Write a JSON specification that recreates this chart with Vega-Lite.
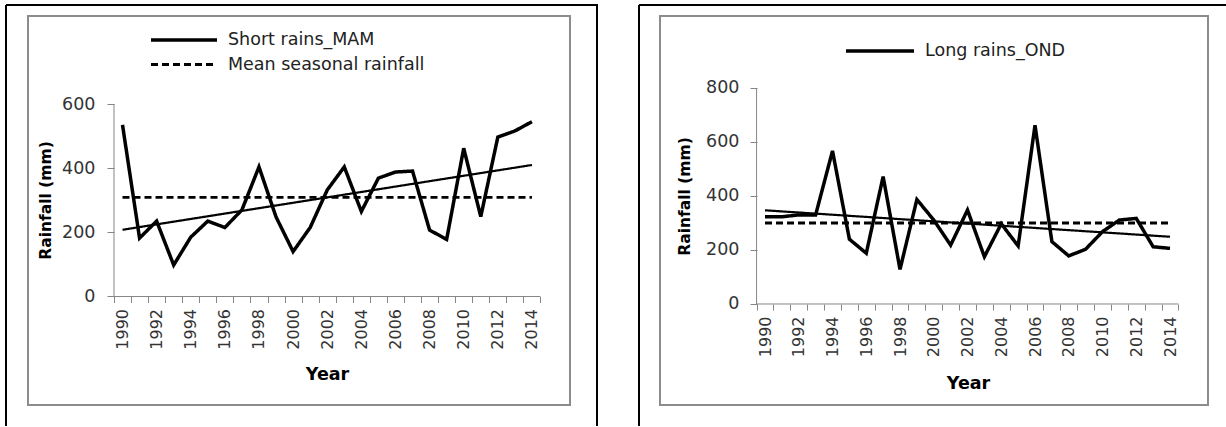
{
  "$schema": "https://vega.github.io/schema/vega-lite/v6.json",
  "background": "white",
  "padding": {"left": 5, "top": 4, "right": 0, "bottom": 0},
  "spacing": 40,
  "config": {"font": "DejaVu Sans", "axis": {"grid": false}},
  "resolve": {"scale": {"strokeDash": "independent", "strokeWidth": "independent"}, "legend": {"strokeDash": "independent", "strokeWidth": "independent"}},
  "datasets": {
    "mam": [
      {"year": 1990, "series": "Short rains_MAM", "value": 535},
      {"year": 1991, "series": "Short rains_MAM", "value": 182},
      {"year": 1992, "series": "Short rains_MAM", "value": 235},
      {"year": 1993, "series": "Short rains_MAM", "value": 98},
      {"year": 1994, "series": "Short rains_MAM", "value": 185},
      {"year": 1995, "series": "Short rains_MAM", "value": 235},
      {"year": 1996, "series": "Short rains_MAM", "value": 215},
      {"year": 1997, "series": "Short rains_MAM", "value": 270},
      {"year": 1998, "series": "Short rains_MAM", "value": 404},
      {"year": 1999, "series": "Short rains_MAM", "value": 248},
      {"year": 2000, "series": "Short rains_MAM", "value": 140},
      {"year": 2001, "series": "Short rains_MAM", "value": 215},
      {"year": 2002, "series": "Short rains_MAM", "value": 332},
      {"year": 2003, "series": "Short rains_MAM", "value": 404},
      {"year": 2004, "series": "Short rains_MAM", "value": 265},
      {"year": 2005, "series": "Short rains_MAM", "value": 369},
      {"year": 2006, "series": "Short rains_MAM", "value": 388},
      {"year": 2007, "series": "Short rains_MAM", "value": 391},
      {"year": 2008, "series": "Short rains_MAM", "value": 207},
      {"year": 2009, "series": "Short rains_MAM", "value": 178},
      {"year": 2010, "series": "Short rains_MAM", "value": 462},
      {"year": 2011, "series": "Short rains_MAM", "value": 249},
      {"year": 2012, "series": "Short rains_MAM", "value": 497},
      {"year": 2013, "series": "Short rains_MAM", "value": 516},
      {"year": 2014, "series": "Short rains_MAM", "value": 545},
      {"year": 1990, "series": "Mean seasonal rainfall", "value": 309},
      {"year": 2014, "series": "Mean seasonal rainfall", "value": 309},
      {"year": 1990, "series": "Trend", "value": 208},
      {"year": 2014, "series": "Trend", "value": 410}
    ],
    "ond": [
      {"year": 1990, "series": "Long rains_OND", "value": 323},
      {"year": 1991, "series": "Long rains_OND", "value": 323},
      {"year": 1992, "series": "Long rains_OND", "value": 330},
      {"year": 1993, "series": "Long rains_OND", "value": 330},
      {"year": 1994, "series": "Long rains_OND", "value": 567},
      {"year": 1995, "series": "Long rains_OND", "value": 240},
      {"year": 1996, "series": "Long rains_OND", "value": 188},
      {"year": 1997, "series": "Long rains_OND", "value": 472},
      {"year": 1998, "series": "Long rains_OND", "value": 128},
      {"year": 1999, "series": "Long rains_OND", "value": 387},
      {"year": 2000, "series": "Long rains_OND", "value": 311},
      {"year": 2001, "series": "Long rains_OND", "value": 218},
      {"year": 2002, "series": "Long rains_OND", "value": 348},
      {"year": 2003, "series": "Long rains_OND", "value": 175},
      {"year": 2004, "series": "Long rains_OND", "value": 297},
      {"year": 2005, "series": "Long rains_OND", "value": 215},
      {"year": 2006, "series": "Long rains_OND", "value": 662},
      {"year": 2007, "series": "Long rains_OND", "value": 231},
      {"year": 2008, "series": "Long rains_OND", "value": 178},
      {"year": 2009, "series": "Long rains_OND", "value": 203},
      {"year": 2010, "series": "Long rains_OND", "value": 268},
      {"year": 2011, "series": "Long rains_OND", "value": 311},
      {"year": 2012, "series": "Long rains_OND", "value": 317},
      {"year": 2013, "series": "Long rains_OND", "value": 212},
      {"year": 2014, "series": "Long rains_OND", "value": 206},
      {"year": 1990, "series": "Mean seasonal rainfall", "value": 300},
      {"year": 2014, "series": "Mean seasonal rainfall", "value": 300},
      {"year": 1990, "series": "Trend", "value": 347},
      {"year": 2014, "series": "Trend", "value": 249}
    ]
  },
  "hconcat": [
    {
      "width": 591,
      "height": 421,
      "view": {"stroke": "black", "strokeWidth": 2, "strokeDash": [1012, 591, 421, 0]},
      "resolve": {"axis": {"x": "independent", "y": "independent"}},
      "layer": [
        {
          "data": {"values": [{"part": "chart area"}]},
          "mark": {"type": "rect", "filled": false, "color": "#8c8c8c", "strokeWidth": 2},
          "encoding": {
            "x": {"datum": 1984.461, "type": "quantitative", "scale": {"domain": [1983.171, 2017.813], "nice": false, "zero": false}, "axis": null},
            "x2": {"datum": 2016.231},
            "y": {"datum": 874.4, "type": "quantitative", "scale": {"domain": [-403.7, 908.7], "nice": false, "zero": false}, "axis": null},
            "y2": {"datum": -338.2}
          }
        },
        {
          "data": {"values": [{"part": "value axis line"}]},
          "mark": {"type": "rule", "color": "#868686", "strokeWidth": 1},
          "encoding": {
            "x": {"datum": 1989.5, "type": "quantitative", "axis": null},
            "y": {"datum": 0, "type": "quantitative", "axis": null},
            "y2": {"datum": 600}
          }
        },
        {
          "data": {"values": [{"part": "category axis line"}]},
          "mark": {"type": "rule", "color": "#868686", "strokeWidth": 1},
          "encoding": {
            "x": {"datum": 1989.5, "type": "quantitative", "axis": {"orient": "bottom", "offset": -129.5, "values": [1989.5, 1990.5, 1991.5, 1992.5, 1993.5, 1994.5, 1995.5, 1996.5, 1997.5, 1998.5, 1999.5, 2000.5, 2001.5, 2002.5, 2003.5, 2004.5, 2005.5, 2006.5, 2007.5, 2008.5, 2009.5, 2010.5, 2011.5, 2012.5, 2013.5, 2014.5], "labels": false, "ticks": true, "tickSize": 6, "tickColor": "#868686", "domain": false, "grid": false, "title": null}},
            "x2": {"datum": 2014.5},
            "y": {"datum": 0, "type": "quantitative", "axis": null}
          }
        },
        {
          "data": {"name": "mam"},
          "mark": {"type": "line", "color": "black"},
          "encoding": {
            "x": {"field": "year", "type": "quantitative", "axis": {"orient": "bottom", "offset": -129.5, "values": [1990, 1992, 1994, 1996, 1998, 2000, 2002, 2004, 2006, 2008, 2010, 2012, 2014], "format": "d", "labelAngle": -90, "ticks": false, "domain": false, "grid": false, "labelPadding": 12, "labelFontSize": 16, "labelColor": "#333", "labelFlush": false, "labelOverlap": false, "labelBound": false, "title": "Year", "titleFontSize": 17.5, "titleFontWeight": "bold", "titleColor": "black", "titleX": 321, "titleY": 78, "titleAngle": 0, "titleAlign": "center", "titleBaseline": "middle"}},
            "y": {"field": "value", "type": "quantitative", "axis": {"orient": "left", "offset": -108, "values": [0, 200, 400, 600], "format": "d", "domain": false, "grid": false, "ticks": true, "tickSize": 7, "tickColor": "#868686", "labelPadding": 12, "labelFontSize": 17.5, "labelColor": "#333", "labelFlush": false, "labelOverlap": false, "title": "Rainfall (mm)", "titleFontSize": 15.5, "titleFontWeight": "bold", "titleColor": "black", "titleX": -69, "titleY": 195, "titleAngle": -90, "titleAlign": "center", "titleBaseline": "middle"}},
            "strokeDash": {"field": "series", "type": "nominal", "scale": {"domain": ["Short rains_MAM", "Mean seasonal rainfall", "Trend"], "range": [[1, 0], [7, 4], [1, 0]]}, "legend": {"orient": "none", "legendX": 166, "legendY": 23, "title": null, "values": ["Short rains_MAM", "Mean seasonal rainfall"], "symbolType": "M-3.3,0H3.3", "symbolSize": 400, "symbolStrokeWidth": 3, "symbolStrokeColor": "black", "labelFontSize": 17.5, "labelColor": "#222", "labelOffset": 32, "labelLimit": 400, "rowPadding": 4, "padding": 0}},
            "strokeWidth": {"field": "series", "type": "nominal", "scale": {"domain": ["Short rains_MAM", "Mean seasonal rainfall", "Trend"], "range": [3.5, 2.2, 1.2]}, "legend": null}
          }
        }
      ]
    },
    {
      "width": 588,
      "height": 421,
      "view": {"stroke": "black", "strokeWidth": 2, "strokeDash": [588, 1009, 421, 0]},
      "resolve": {"axis": {"x": "independent", "y": "independent"}},
      "layer": [
        {
          "data": {"values": [{"part": "chart area"}]},
          "mark": {"type": "rect", "filled": false, "color": "#8c8c8c", "strokeWidth": 2},
          "encoding": {
            "x": {"datum": 1983.777, "type": "quantitative", "scale": {"domain": [1982.533, 2017.377], "nice": false, "zero": false}, "axis": null},
            "x2": {"datum": 2016.252},
            "y": {"datum": 1066.7, "type": "quantitative", "scale": {"domain": [-451.9, 1107.4], "nice": false, "zero": false}, "axis": null},
            "y2": {"datum": -374.1}
          }
        },
        {
          "data": {"values": [{"part": "value axis line"}]},
          "mark": {"type": "rule", "color": "#868686", "strokeWidth": 1},
          "encoding": {
            "x": {"datum": 1989.5, "type": "quantitative", "axis": null},
            "y": {"datum": 0, "type": "quantitative", "axis": null},
            "y2": {"datum": 800}
          }
        },
        {
          "data": {"values": [{"part": "category axis line"}]},
          "mark": {"type": "rule", "color": "#868686", "strokeWidth": 1},
          "encoding": {
            "x": {"datum": 1989.5, "type": "quantitative", "axis": {"orient": "bottom", "offset": -122, "values": [1989.5, 1990.5, 1991.5, 1992.5, 1993.5, 1994.5, 1995.5, 1996.5, 1997.5, 1998.5, 1999.5, 2000.5, 2001.5, 2002.5, 2003.5, 2004.5, 2005.5, 2006.5, 2007.5, 2008.5, 2009.5, 2010.5, 2011.5, 2012.5, 2013.5, 2014.5], "labels": false, "ticks": true, "tickSize": 6, "tickColor": "#868686", "domain": false, "grid": false, "title": null}},
            "x2": {"datum": 2014.5},
            "y": {"datum": 0, "type": "quantitative", "axis": null}
          }
        },
        {
          "data": {"name": "ond"},
          "mark": {"type": "line", "color": "black"},
          "encoding": {
            "x": {"field": "year", "type": "quantitative", "axis": {"orient": "bottom", "offset": -122, "values": [1990, 1992, 1994, 1996, 1998, 2000, 2002, 2004, 2006, 2008, 2010, 2012, 2014], "format": "d", "labelAngle": -90, "ticks": false, "domain": false, "grid": false, "labelPadding": 12, "labelFontSize": 16, "labelColor": "#333", "labelFlush": false, "labelOverlap": false, "labelBound": false, "title": "Year", "titleFontSize": 17.5, "titleFontWeight": "bold", "titleColor": "black", "titleX": 329, "titleY": 79, "titleAngle": 0, "titleAlign": "center", "titleBaseline": "middle"}},
            "y": {"field": "value", "type": "quantitative", "axis": {"orient": "left", "offset": -118, "values": [0, 200, 400, 600, 800], "format": "d", "domain": false, "grid": false, "ticks": true, "tickSize": 7, "tickColor": "#868686", "labelPadding": 11, "labelFontSize": 17.5, "labelColor": "#333", "labelFlush": false, "labelOverlap": false, "title": "Rainfall (mm)", "titleFontSize": 15.5, "titleFontWeight": "bold", "titleColor": "black", "titleX": -73, "titleY": 191, "titleAngle": -90, "titleAlign": "center", "titleBaseline": "middle"}},
            "strokeDash": {"field": "series", "type": "nominal", "scale": {"domain": ["Long rains_OND", "Mean seasonal rainfall", "Trend"], "range": [[1, 0], [7, 4], [1, 0]]}, "legend": {"orient": "none", "legendX": 229, "legendY": 34, "title": null, "values": ["Long rains_OND"], "symbolType": "M-3.4,0H3.4", "symbolSize": 400, "symbolStrokeWidth": 3.5, "symbolStrokeColor": "black", "labelFontSize": 17.5, "labelColor": "#222", "labelOffset": 33, "labelLimit": 400, "padding": 0}},
            "strokeWidth": {"field": "series", "type": "nominal", "scale": {"domain": ["Long rains_OND", "Mean seasonal rainfall", "Trend"], "range": [3.5, 2.2, 1.2]}, "legend": null}
          }
        }
      ]
    }
  ]
}
